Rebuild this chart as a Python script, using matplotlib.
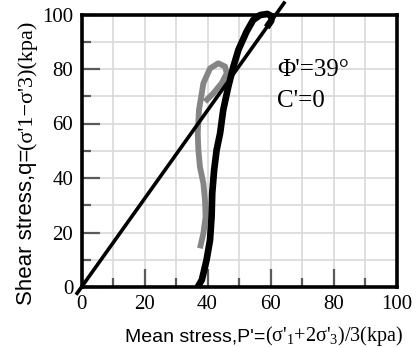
import numpy as np
import matplotlib
matplotlib.use("Agg")
import matplotlib.pyplot as plt

plt.rcParams['font.family'] = ['Liberation Serif', 'DejaVu Serif']
plt.rcParams['mathtext.fontset'] = 'custom'
plt.rcParams['mathtext.rm'] = 'Liberation Serif'
plt.rcParams['mathtext.default'] = 'rm'

# failure line q = M p
line_p = [-1.4, 64.3]
line_q = [-2.3, 104.2]

# black stress path
black_p = [36.9, 38.2, 39.7, 40.8, 41.3, 41.5, 42.1, 42.9, 44.0, 45.0, 46.6, 48.2, 49.8,
           52.4, 54.5, 56.7, 59.0, 60.5, 60.2, 58.8]
black_q = [0.0, 2.6, 9.9, 17.2, 25.8, 34.4, 42.9, 50.3, 56.4, 65.0, 73.5, 80.8, 87.0,
           93.7, 98.0, 99.8, 100.2, 99.3, 97.6, 95.3]

# gray stress path
gray_p = [37.6, 38.7, 39.4, 39.2, 38.7, 37.6, 37.1, 36.9, 37.3, 38.7, 40.8, 43.4,
          45.6, 46.1, 44.5, 41.8, 39.7, 39.2]
gray_q = [14.2, 19.7, 25.8, 31.9, 38.0, 44.1, 50.3, 56.4, 65.0, 74.8, 80.2, 82.1,
          80.9, 78.4, 74.8, 71.0, 68.6, 68.0]

major = [0, 20, 40, 60, 80, 100]
minor = [10, 30, 50, 70, 90]

fig = plt.figure(figsize=(4.16, 3.47), dpi=100)
ax = fig.add_axes([81.5/416, 1 - 287/347, 315/416, 272.5/347])

ax.plot(gray_p, gray_q, color='#858585', lw=4.2, solid_joinstyle='round',
        solid_capstyle='butt', zorder=3)
ax.plot(black_p, black_q, color='black', lw=4.8, solid_joinstyle='round',
        solid_capstyle='butt', zorder=4, clip_on=False)
ax.plot(line_p, line_q, color='black', lw=2.6, zorder=5, clip_on=False)

ax.set_xlim(0, 100)
ax.set_ylim(0, 100)
ax.set_xticks(major)
ax.set_yticks(major)
ax.set_xticks(minor, minor=True)
ax.set_yticks(minor, minor=True)
ax.grid(which='both', color='#d9d9d9', lw=1.2, zorder=0)
ax.set_axisbelow(True)
ax.tick_params(which='both', direction='in', color='#5a5a5a', width=1.6,
               labelsize=15, pad=6)
ax.tick_params(which='major', length=13)
ax.tick_params(which='minor', length=6.5)
for s in ax.spines.values():
    s.set_linewidth(2.6)
    s.set_zorder(6)

ax.text(62, 79.5, "Φ'=39°", fontsize=18, va='center')
ax.text(62, 68.3, "C'=0", fontsize=18, va='center')

# axis labels in two fonts
W, H = 416, 347
t1 = fig.text(125/W, (H - 341)/H, "Mean stress,P'=", family='Liberation Sans',
              fontsize=14, ha='left', va='baseline')
fig.canvas.draw()
r = fig.canvas.get_renderer()
bb = t1.get_window_extent(r)
fig.text(bb.x1/W, (H - 341)/H, "(σ'$_1$+2σ'$_3$)/3(kpa)",
         fontsize=14.5, ha='left', va='baseline')

t2 = fig.text(32/W, (H - 305)/H, "Shear stress,q=", family='Liberation Sans',
              fontsize=16, rotation=90, rotation_mode='anchor', ha='left', va='baseline')
fig.canvas.draw()
bb = t2.get_window_extent(r)
fig.text(32/W, bb.y1/H, "(σ'1−σ'3)(kpa)",
         fontsize=16, rotation=90, rotation_mode='anchor', ha='left', va='baseline')

fig.savefig('out.png', dpi=100)
